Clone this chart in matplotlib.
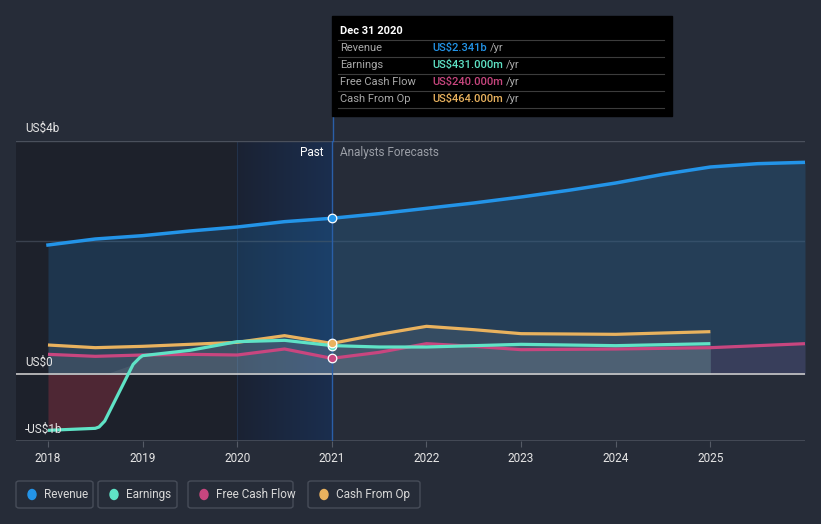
import numpy as np
import matplotlib
matplotlib.use("Agg")
import matplotlib.pyplot as plt
from matplotlib.patches import Rectangle, FancyBboxPatch, Ellipse
from matplotlib.colors import LinearSegmentedColormap

plt.rcParams['font.family'] = ['Roboto', 'DejaVu Sans']

# ---------------- data (US$ billions) ----------------
rev_x = [2018, 2018.5, 2019, 2019.5, 2020, 2020.5, 2021, 2021.5, 2022, 2022.5, 2023, 2023.5, 2024, 2024.5, 2025, 2025.5, 2026]
rev_y = [1.94, 2.03, 2.08, 2.15, 2.21, 2.29, 2.341, 2.41, 2.49, 2.57, 2.66, 2.76, 2.87, 3.00, 3.11, 3.16, 3.18]

earn_x = [2018, 2018.5, 2018.54, 2018.6, 2018.9, 2018.97, 2019, 2019.5, 2020, 2020.5, 2021, 2021.5, 2022, 2023, 2024, 2025]
earn_y = [-0.84, -0.81, -0.79, -0.70, 0.15, 0.25, 0.28, 0.36, 0.49, 0.51, 0.431, 0.41, 0.41, 0.45, 0.43, 0.46]

fcf_x = [2018, 2018.5, 2019, 2019.5, 2020, 2020.5, 2021, 2021.5, 2022, 2022.5, 2023, 2024, 2025, 2025.5, 2026]
fcf_y = [0.30, 0.27, 0.29, 0.30, 0.29, 0.38, 0.24, 0.33, 0.46, 0.42, 0.37, 0.38, 0.40, 0.43, 0.46]

cfo_x = [2018, 2018.5, 2019, 2019.5, 2020, 2020.5, 2021, 2021.5, 2022, 2022.5, 2023, 2024, 2025]
cfo_y = [0.44, 0.40, 0.42, 0.45, 0.48, 0.58, 0.464, 0.60, 0.72, 0.67, 0.61, 0.60, 0.64]

year_ticks = [2018, 2019, 2020, 2021, 2022, 2023, 2024, 2025]
series_names = ["Revenue", "Earnings", "Free Cash Flow", "Cash From Op"]
tooltip_vals = ["US$2.341b", "US$431.000m", "US$240.000m", "US$464.000m"]

C_REV = "#2394e8"
C_EARN = "#5fe3c6"
C_FCF = "#c8467f"
C_CFO = "#e9b25e"
colors = [C_REV, C_EARN, C_FCF, C_CFO]
BG = "#262c38"

W, H = 821, 524
fig = plt.figure(figsize=(W / 100, H / 100), dpi=100, facecolor=BG)

def fx(x):
    return x / W

def fy(y):
    return 1 - y / H

# axes: left 16px, right 805px, top 141px (3.5b), bottom 441px (-1b)
ax = fig.add_axes([fx(16), fy(441), fx(805) - fx(16), fy(141) - fy(441)])
ax.set_facecolor(BG)
x0 = 2018 - 32 / 94.71
ax.set_xlim(x0, 2026)
ax.set_ylim(-1.0, 3.5)
for s in ax.spines.values():
    s.set_visible(False)
ax.set_yticks([])
ax.set_xticks(year_ticks)
ax.set_xticklabels([str(y) for y in year_ticks], color="#e6e6e6", fontsize=8.5)
ax.tick_params(axis="x", length=4, color="#555b66", pad=4)

# past shading
ax.axvspan(x0, 2020, color="#1d212b", zorder=0, lw=0)
grad = np.linspace(0, 1, 256).reshape(1, -1)
cmap = LinearSegmentedColormap.from_list("g", ["#1b2233", "#1a2e4e"])
ax.imshow(grad, extent=[2020, 2021, -1.0, 3.5], aspect="auto", cmap=cmap, zorder=0.5)
ax.plot([2020, 2020], [-1.0, 3.5], color="#22324a", lw=0.8, zorder=0.6)

# gridlines
ax.axhline(3.5, color="#4a505c", lw=1, zorder=1)
ax.axhline(2.0, color="#3a414e", lw=1, zorder=1)
ax.axhline(-1.0, color="#4a505c", lw=1.2, zorder=1)

# fills
ax.fill_between(rev_x, rev_y, 0, color=C_REV, alpha=0.18, lw=0, zorder=2)
ex = np.array(earn_x); ey = np.array(earn_y)
ax.fill_between(ex, ey, 0, where=ey < 0, interpolate=True, color="#8a3040", alpha=0.45, lw=0, zorder=2)
ax.fill_between(ex, np.clip(ey, 0, None), 0, color="#c8c8c8", alpha=0.10, lw=0, zorder=2)
ax.fill_between(cfo_x, cfo_y, 0, color="#c8c8c8", alpha=0.10, lw=0, zorder=2)
fx_arr = np.array(fcf_x); fy_arr = np.array(fcf_y)
ax.fill_between(fx_arr, fy_arr, 0, where=fx_arr <= 2025, color="#c8c8c8", alpha=0.08, lw=0, zorder=2)
ax.fill_between(fx_arr, fy_arr, 0, where=fx_arr >= 2025, color=C_FCF, alpha=0.12, lw=0, zorder=2)

# zero line
ax.axhline(0, color="#c9c9c9", lw=1.2, zorder=3)

# lines
kw = dict(lw=2.3, solid_capstyle="butt", solid_joinstyle="round", zorder=4)
ax.plot(cfo_x, cfo_y, color=C_CFO, **kw)
ax.plot(fcf_x, fcf_y, color=C_FCF, **kw)
ax.plot(earn_x, earn_y, color=C_EARN, **kw)
ax.plot(rev_x, rev_y, color=C_REV, lw=2.5, zorder=5)

# vertical marker line at 2021
ax.plot([2021, 2021], [-1.0, 3.5], color="#2a5fa8", lw=1, zorder=3.5)
fig.add_artist(plt.Line2D([fx(332.5), fx(332.5)], [fy(141), fy(110)], color="#2a5fa8", lw=1))

# markers at 2021
for xs, ys, c in [(rev_x, rev_y, C_REV), (earn_x, earn_y, C_EARN), (cfo_x, cfo_y, C_CFO), (fcf_x, fcf_y, C_FCF)]:
    i = xs.index(2021)
    ax.scatter([xs[i]], [ys[i]], s=38, color=c, edgecolor="white", linewidth=0.9, zorder=6)

# text labels
ax.text(2021 - 0.09, 3.33, "Past", color="#ffffff", fontsize=8.5, ha="right", va="center", zorder=7)
ax.text(2021 + 0.09, 3.33, "Analysts Forecasts", color="#9a9ea6", fontsize=8.5, ha="left", va="center", zorder=7)

fig.text(fx(25), fy(128), "US$4b", color="#e6e6e6", fontsize=8.5, va="center", ha="left")
fig.text(fx(25), fy(362), "US$0", color="#e6e6e6", fontsize=8.5, va="center", ha="left")
fig.text(fx(25), fy(429), "-US$1b", color="#e6e6e6", fontsize=8.5, va="center", ha="left", zorder=10)

# tooltip
fig.add_artist(Rectangle((fx(332), fy(116)), fx(672) - fx(332), fy(16) - fy(116), color="#000000", zorder=20))
fig.text(fx(340), fy(31), "Dec 31 2020", color="white", fontsize=8, fontweight="bold", va="center", zorder=21)
row_y = [48, 65, 82, 99]
for yy in [40, 57, 74, 91, 108]:
    fig.add_artist(plt.Line2D([fx(338), fx(664)], [fy(yy), fy(yy)], color="#3c3c3c", lw=0.8, zorder=21))
fig.canvas.draw()
for name, val, c, yy in zip(series_names, tooltip_vals, colors, row_y):
    fig.text(fx(340), fy(yy), name, color="#a9a9a9", fontsize=8, va="center", zorder=21)
    t = fig.text(fx(432), fy(yy), val, color=c, fontsize=8, fontweight="medium", va="center", zorder=21)
    bb = t.get_window_extent(renderer=fig.canvas.get_renderer())
    fig.text((bb.x1 + 3) / W, fy(yy), "/yr", color="#a9a9a9", fontsize=8, va="center", zorder=21)

# legend
legend_boxes = [(16, 93), (98, 177), (188, 293), (308, 420)]
for (l, r), name, c in zip(legend_boxes, series_names, colors):
    fig.add_artist(FancyBboxPatch((fx(l), fy(508)), fx(r) - fx(l), fy(481) - fy(508),
                                  boxstyle="round,pad=0,rounding_size=0.004",
                                  facecolor="none", edgecolor="#474d59", lw=1))
    fig.add_artist(Ellipse((fx(l + 16), fy(494.5)), 8 / W, 10 / H, transform=fig.transFigure, color=c))
    fig.text(fx(l + 28), fy(494.5), name, color="#d8d8d8", fontsize=8.5, va="center", ha="left")

fig.savefig("out.png", dpi=100, facecolor=BG)
